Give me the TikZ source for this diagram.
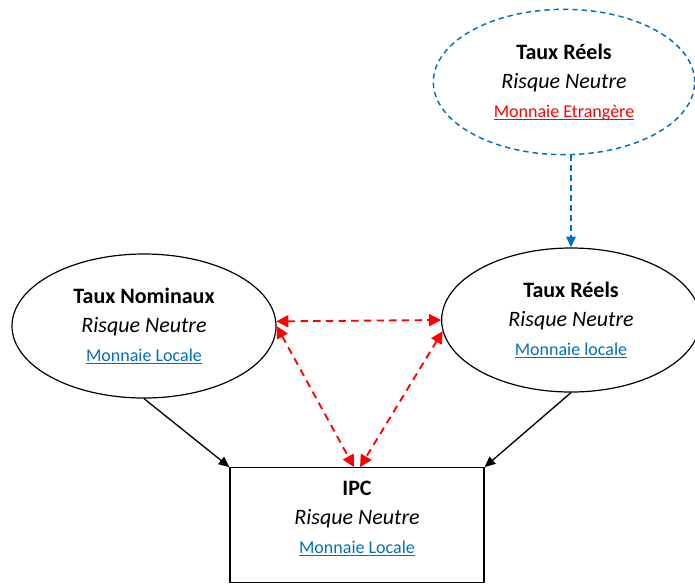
\documentclass[tikz,border=0pt]{standalone}
\usepackage{fontspec}
\setmainfont{Carlito}
\usetikzlibrary{arrows.meta,shapes.geometric,calc}
\definecolor{linkblue}{HTML}{0070C0}
\definecolor{dashblue}{HTML}{0070C0}
\newcommand{\ulink}[1]{{\fontsize{13.5}{21.75}\selectfont\underline{\smash{#1}}}}
\begin{document}
\begin{tikzpicture}[x=0.75pt,y=-0.75pt,
  every node/.style={font=\fontsize{16.5}{21.75}\selectfont, align=center, inner sep=0pt},
  oval/.style={ellipse, draw=black, line width=0.9pt},
  dashoval/.style={ellipse, draw=dashblue, line width=1.1pt, dash pattern=on 4pt off 3pt},
  box/.style={rectangle, draw=black, line width=0.9pt},
  flow/.style={draw=black, line width=1pt, -{Triangle[length=8pt,width=7pt]}},
  feed/.style={draw=dashblue, line width=1.3pt, dash pattern=on 4.5pt off 3pt, -{Triangle[length=8pt,width=7pt]}},
  link/.style={draw=red, line width=1.4pt, dash pattern=on 5.5pt off 4pt, {Triangle[length=9pt,width=9pt]}-{Triangle[length=9pt,width=9pt]}}
]
\useasboundingbox (0,0) rectangle (695,583);

\node[dashoval, minimum width=196pt, minimum height=109pt] (top) at (564,82)
  {\textbf{Taux Réels}\\ \textit{Risque Neutre}\\ \textcolor{red}{\ulink{Monnaie Etrangère}}};

\node[oval, minimum width=198pt, minimum height=108pt] (nom) at (144,326)
  {\textbf{Taux Nominaux}\\ \textit{Risque Neutre}\\ \textcolor{linkblue}{\ulink{Monnaie Locale}}};

\node[oval, minimum width=194pt, minimum height=108pt] (reel) at (571,320)
  {\textbf{Taux Réels}\\ \textit{Risque Neutre}\\ \textcolor{linkblue}{\ulink{Monnaie locale}}};

\node[box, minimum width=190.5pt, minimum height=86pt] (ipc) at (357,525) {};
\node (ipctext) at (357,519)
  {\textbf{IPC}\\ \textit{Risque Neutre}\\ \textcolor{linkblue}{\ulink{Monnaie Locale}}};

% influence of foreign real rates
\draw[feed] (top.south -| reel.north) -- (reel.north);

% parity relations
\draw[link] (nom.2.6) -- (reel.west);
\draw[link] (nom.0) -- ($(ipc.north)+(-3,0)$);
\draw[link] (reel.185) -- ($(ipc.north)+(3,0)$);

% both rates feed the price index
\draw[flow] (nom.south) -- (ipc.north west);
\draw[flow] (reel.south) -- (ipc.north east);
\end{tikzpicture}
\end{document}
